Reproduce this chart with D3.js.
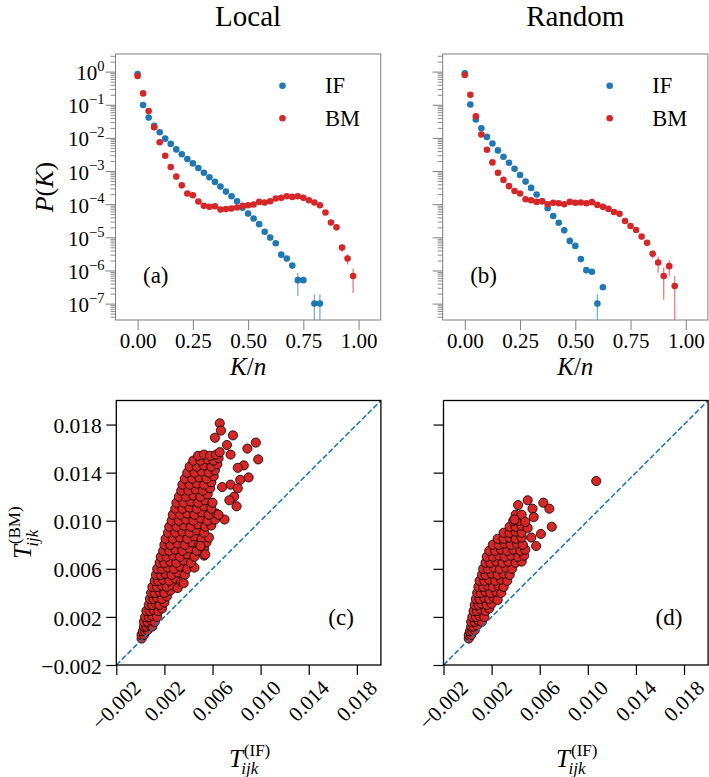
<!DOCTYPE html>
<html>
<head>
<meta charset="utf-8">
<script src="https://cdn.jsdelivr.net/npm/d3@7"></script>
<style>
  body { margin: 0; background: #fff; }
  svg text { font-family: "Liberation Serif", "DejaVu Serif", "Noto Serif", serif; fill: #000; }
</style>
</head>
<body>
<svg id="fig" width="709" height="777" font-family="Liberation Serif, DejaVu Serif, serif"></svg>
<script>
// K/n grid shared by the four P(K) series
var kn = [0, 0.025, 0.05, 0.075, 0.1, 0.125, 0.15, 0.175, 0.2, 0.225,
          0.25, 0.275, 0.3, 0.325, 0.35, 0.375, 0.4, 0.425, 0.45, 0.475,
          0.5, 0.525, 0.55, 0.575, 0.6, 0.625, 0.65, 0.675, 0.7, 0.725,
          0.75, 0.775, 0.8, 0.825, 0.85, 0.875, 0.9, 0.925, 0.95, 0.975];

// (a) Local
var localIF = [8.5e-1, 9.8e-2, 4.1e-2, 2.3e-2, 1.48e-2, 9.5e-3, 6.6e-3, 4.5e-3, 3.2e-3, 2.3e-3,
               1.7e-3, 1.23e-3, 8.9e-4, 6.5e-4, 4.7e-4, 3.4e-4, 2.4e-4, 1.74e-4, 1.23e-4, 7.8e-5,
               5.2e-5, 3.7e-5, 2.5e-5, 1.48e-5, 9.8e-6, 6.6e-6, 3.0e-6, 2.3e-6, 1.4e-6, 5.1e-7,
               5.1e-7, null, 1.0e-7, 1.0e-7, null, null, null, null, null, null];
var localIFErr = [0, 0, 0, 0, 0, 0, 0, 0, 0, 0,
                  0, 0, 0, 0, 0, 0, 0, 0, 0, 0,
                  0, 0, 0, 0, 0, 0, 0, 0, 0, 3.4e-7,
                  0.6e-7, 0, 0.9e-7, 0.9e-7, 0, 0, 0, 0, 0, 0];
var localBM = [7.4e-1, 2.2e-1, 6.5e-2, 2.1e-2, 7.4e-3, 2.9e-3, 1.32e-3, 6.8e-4, 3.7e-4, 2.1e-4,
               1.86e-4, 1.2e-4, 8.9e-5, 8.3e-5, 8.7e-5, 6.9e-5, 7.1e-5, 7.4e-5, 7.9e-5, 8.9e-5,
               9.3e-5, 9.8e-5, 1.17e-4, 1.12e-4, 1.23e-4, 1.48e-4, 1.55e-4, 1.74e-4, 1.66e-4, 1.74e-4,
               1.55e-4, 1.32e-4, 1.12e-4, 9.3e-5, 5.6e-5, 2.8e-5, 2.0e-5, 4.9e-6, 2.3e-6, 6.8e-7];
var localBMErr = [0, 0, 0, 0, 0, 0, 0, 0, 0, 0,
                  0, 0, 0, 0, 0, 0, 0, 0, 0, 0,
                  0, 0, 0, 0, 0, 0, 0, 0, 0, 0,
                  0, 0, 0, 0, 0, 0, 0, 1.2e-6, 0.8e-6, 4.7e-7];

// (b) Random
var randomIF = [8.9e-1, 1.02e-1, 3.6e-2, 1.95e-2, 1.07e-2, 6.8e-3, 4.2e-3, 2.7e-3, 1.78e-3, 1.17e-3,
                7.6e-4, 4.8e-4, 3.1e-4, 1.95e-4, 1.23e-4, 7.6e-5, 4.4e-5, 2.75e-5, 1.62e-5, 7.8e-6,
                5.5e-6, 2.2e-6, 1.02e-6, 9.1e-7, 1.0e-7, 3.1e-7, null, null, null, null,
                null, null, null, null, null, null, null, null, null, null];
var randomIFErr = [0, 0, 0, 0, 0, 0, 0, 0, 0, 0,
                   0, 0, 0, 0, 0, 0, 0, 0, 0, 0,
                   0, 0, 0, 0, 0.9e-7, 0.5e-7, 0, 0, 0, 0,
                   0, 0, 0, 0, 0, 0, 0, 0, 0, 0];
var randomBM = [7.9e-1, 2.0e-1, 4.5e-2, 1.26e-2, 4.4e-3, 1.82e-3, 8.9e-4, 5.4e-4, 3.5e-4, 2.5e-4,
                2.1e-4, 1.41e-4, 1.32e-4, 1.17e-4, 1.23e-4, 1.0e-4, 1.1e-4, 1.07e-4, 1.0e-4, 1.17e-4,
                1.1e-4, 1.12e-4, 1.07e-4, 1.15e-4, 9.5e-5, 8.3e-5, 7.2e-5, 5.8e-5, 5.1e-5, 3.1e-5,
                2.2e-5, 1.66e-5, 1.05e-5, 6.8e-6, 3.2e-6, 1.74e-6, 6.8e-7, 1.35e-6, 3.4e-7, null];
var randomBMErr = [0, 0, 0, 0, 0, 0, 0, 0, 0, 0,
                   0, 0, 0, 0, 0, 0, 0, 0, 0, 0,
                   0, 0, 0, 0, 0, 0, 0, 0, 0, 0,
                   0, 0, 0, 0, 0.9e-6, 0.88e-6, 5.5e-7, 0.67e-6, 3.4e-7, 0];

var kTicks = [0, 0.25, 0.5, 0.75, 1.0];

// scatter clouds, [T_IF, T_BM] in units of 1e-4
var UNIT = 1e-4;
var localT = [[1,2],[1,5],[3,5],[2,8],[4,8],[6,9],[3,12],[5,12],[8,13],[10,12],[3,16],[6,16],[9,17],[12,16],
  [4,20],[7,20],[10,21],[14,20],[5,25],[8,25],[11,26],[15,25],[18,27],[7,30],[10,30],[13,31],[16,30],[20,32],
  [8,35],[11,35],[14,36],[18,35],[22,37],[9,40],[12,40],[16,41],[20,40],[25,42],[10,45],[14,45],[18,46],[22,45],
  [27,46],[31,44],[12,50],[15,50],[19,51],[24,50],[29,52],[34,49],[13,55],[17,55],[21,56],[26,55],[31,57],[37,55],
  [14,60],[18,60],[23,61],[28,60],[33,62],[39,60],[45,61],[16,65],[20,65],[25,66],[30,65],[36,67],[42,65],
  [17,70],[22,70],[27,71],[33,70],[39,72],[45,70],[53,71],[19,75],[24,75],[29,76],[35,75],[41,77],[47,75],[53,77],
  [20,80],[25,80],[31,81],[37,80],[43,82],[49,80],[55,82],[21,85],[27,85],[33,86],[39,85],[45,87],[51,85],[57,86],
  [23,90],[29,90],[35,91],[41,90],[47,92],[53,90],[24,95],[30,95],[36,96],[42,95],[48,97],[54,95],[59,96],
  [26,100],[32,100],[38,101],[44,100],[50,102],[56,100],[62,101],[27,105],[33,105],[39,106],[45,105],[51,107],
  [57,105],[63,106],[29,110],[35,110],[41,111],[47,110],[53,112],[59,110],[30,115],[36,115],[42,116],[48,115],
  [54,117],[60,115],[32,120],[38,120],[44,121],[50,120],[56,122],[34,125],[40,125],[46,126],[52,125],[58,127],
  [35,130],[41,130],[47,131],[53,130],[59,132],[37,135],[43,135],[49,136],[55,135],[61,137],[39,140],[45,140],
  [51,141],[57,140],[62,142],[41,145],[47,145],[53,146],[59,145],[64,147],[44,150],[50,150],[56,151],[61,150],
  [65,152],[48,154],[53,155],[58,154],[63,155],
  [66,181],[67,175],[62,169],[77,171],[72,163],[66,157],[75,155],[89,160],[96,165],[98,151],[86,146],[81,144],
  [90,136],[83,134],[75,130],[68,128],[81,127],[78,120],[74,117],[80,112],[70,101],[65,105],[54,72],[50,79],[36,48]];

var randomT = [[1,2],[1,5],[3,5],[2,8],[4,8],[6,9],[3,12],[5,12],[8,13],[3,16],[6,16],[9,17],[12,16],
  [4,20],[7,20],[10,21],[14,20],[5,25],[8,25],[11,26],[15,25],[18,27],[6,30],[9,30],[12,31],[16,30],[20,31],
  [7,35],[10,35],[14,36],[18,35],[22,36],[25,34],[8,40],[11,40],[15,41],[19,40],[24,41],[28,40],
  [9,45],[13,45],[17,46],[21,45],[26,46],[30,45],[10,50],[14,50],[18,51],[23,50],[28,51],[33,50],
  [12,55],[15,55],[20,56],[25,55],[30,56],[35,55],[13,60],[17,60],[22,61],[27,60],[32,61],[37,60],
  [15,65],[19,65],[24,66],[29,65],[34,66],[40,65],[45,66],[16,70],[21,70],[26,71],[31,70],[36,71],[42,70],[47,71],
  [18,75],[23,75],[28,76],[33,75],[38,76],[44,75],[48,76],[21,80],[26,80],[31,81],[36,80],[41,81],[46,80],
  [25,85],[30,85],[35,86],[40,85],[45,86],[30,90],[35,90],[40,91],[45,90],[35,95],[40,95],[45,96],
  [38,100],[43,100],[40,105],
  [107,133],[50,117],[42,113],[63,115],[54,110],[68,110],[55,103],[45,105],[70,95],[50,94],[61,89],[53,86],
  [57,79],[39,101],[48,99]];

var tTicks = [-0.002, 0.002, 0.006, 0.010, 0.014, 0.018];

var BLUE = "#1f77b4", RED = "#d62728";
var FONT = "Liberation Serif, DejaVu Serif, serif";
var svg = d3.select("#fig");
svg.append("rect").attr("width", 709).attr("height", 777).attr("fill", "#fff");

function styleAxis(sel, color, width) {
  sel.attr("font-family", FONT);
  sel.select(".domain").remove();
  sel.selectAll("line").attr("stroke", color).attr("stroke-width", width);
}

////////////////////// P(K) panels //////////////////////
function degreePanel(p) {
  var W = 265.2, top = 54, bottom = 320;
  var x = d3.scaleLinear().domain([-0.1, 1.1]).range([p.left, p.left + W]);
  var y = d3.scaleLog().domain([3.2e-8, 3.4]).range([bottom, top]);
  var grey = "#7f7f7f";

  svg.append("clipPath").attr("id", "clip" + p.tag)
    .append("rect").attr("x", p.left).attr("y", top).attr("width", W).attr("height", bottom - top);
  var plot = svg.append("g").attr("clip-path", "url(#clip" + p.tag + ")");

  p.series.forEach(function (s) {
    var pts = [];
    kn.forEach(function (k, i) {
      if (s.values[i] != null) pts.push({ k: k, v: s.values[i], e: s.err[i] });
    });
    plot.selectAll(null).data(pts.filter(function (d) { return d.e > 0; }))
      .enter().append("line")
      .attr("x1", function (d) { return x(d.k); })
      .attr("x2", function (d) { return x(d.k); })
      .attr("y1", function (d) { return y(d.v + d.e); })
      .attr("y2", function (d) { return d.v - d.e > 0 ? y(d.v - d.e) : bottom + 10; })
      .attr("stroke", s.color).attr("stroke-width", 1.3).attr("stroke-opacity", 0.6);
    plot.selectAll(null).data(pts).enter().append("circle")
      .attr("cx", function (d) { return x(d.k); })
      .attr("cy", function (d) { return y(d.v); })
      .attr("r", 3.3)
      .attr("fill", s.color);
  });

  // frame
  svg.append("rect").attr("x", p.left).attr("y", top).attr("width", W).attr("height", bottom - top)
    .attr("fill", "none").attr("stroke", grey).attr("stroke-width", 1);

  // x axis
  var xa = svg.append("g").attr("transform", "translate(0," + bottom + ")")
    .call(d3.axisBottom(x).tickValues(kTicks).tickSize(10).tickPadding(3).tickFormat(d3.format(".2f")));
  styleAxis(xa, grey, 1);
  xa.selectAll("text").attr("font-size", 21).attr("fill", "#000");

  // y axis, log with minor ticks
  var isMajor = function (v) { var l = Math.log10(v); return Math.abs(l - Math.round(l)) < 1e-6; };
  var all = y.ticks();
  var majors = all.filter(isMajor), minors = all.filter(function (v) { return !isMajor(v); });
  var ym = svg.append("g").attr("transform", "translate(" + p.left + ",0)")
    .call(d3.axisLeft(y).tickValues(minors).tickSize(5).tickFormat(""));
  styleAxis(ym, grey, 0.9);
  var yM = svg.append("g").attr("transform", "translate(" + p.left + ",0)")
    .call(d3.axisLeft(y).tickValues(majors).tickSize(10).tickFormat(""));
  styleAxis(yM, grey, 1);

  if (p.yLabels) {
    majors.forEach(function (v) {
      var e = Math.round(Math.log10(v));
      var t = svg.append("text").attr("x", p.left - 11).attr("y", y(v) + 8.5)
        .attr("text-anchor", "end").attr("font-size", 21);
      t.append("tspan").text("10");
      t.append("tspan").attr("dy", -9.3).attr("font-size", 14.5).text(e < 0 ? "\u2212" + (-e) : String(e));
    });
    var yl = svg.append("text").attr("transform", "translate(" + (p.left - 63) + "," + ((top + bottom) / 2) + ") rotate(-90)")
      .attr("text-anchor", "middle").attr("font-size", 26);
    yl.append("tspan").attr("font-style", "italic").text("P");
    yl.append("tspan").text("(");
    yl.append("tspan").attr("font-style", "italic").text("K");
    yl.append("tspan").text(")");
  }

  var xl = svg.append("text").attr("x", p.left + W / 2).attr("y", 375)
    .attr("text-anchor", "middle").attr("font-size", 25);
  xl.append("tspan").attr("font-style", "italic").text("K");
  xl.append("tspan").text("/");
  xl.append("tspan").attr("font-style", "italic").text("n");

  // legend
  p.series.forEach(function (s, i) {
    svg.append("circle").attr("cx", p.left + 167).attr("cy", 85.7 + i * 32.6).attr("r", 3.3).attr("fill", s.color);
    svg.append("text").attr("x", p.left + 209.5).attr("y", 93.3 + i * 32.6).attr("font-size", 22.5).text(s.name);
  });

  svg.append("text").attr("x", p.left + 27.5).attr("y", 283).attr("font-size", 23).text(p.panel);
  svg.append("text").attr("x", p.left + W / 2).attr("y", 26).attr("text-anchor", "middle")
    .attr("font-size", 29).text(p.title);
}

////////////////////// T scatter panels //////////////////////
function tLabel(g, sup) {
  var t = g.append("text").attr("font-style", "italic").attr("font-size", 25).text("T");
  var wt = t.node().getComputedTextLength();
  var s = g.append("text").attr("x", wt + 1).attr("y", -11).attr("font-size", 17).text(sup);
  var b = g.append("text").attr("x", wt - 1.5).attr("y", 7).attr("font-size", 17)
    .attr("font-style", "italic").text("ijk");
  return wt + Math.max(s.node().getComputedTextLength() + 1, b.node().getComputedTextLength() - 1.5);
}

function scatterPanel(p) {
  var W = 264.6, top = 400.5, bottom = 665;
  var x = d3.scaleLinear().domain([-0.002, 0.02]).range([p.left, p.left + W]);
  var y = d3.scaleLinear().domain([-0.002, 0.02]).range([bottom, top]);

  svg.append("clipPath").attr("id", "clip" + p.tag)
    .append("rect").attr("x", p.left).attr("y", top).attr("width", W).attr("height", bottom - top);
  var plot = svg.append("g").attr("clip-path", "url(#clip" + p.tag + ")");

  plot.selectAll(null).data(p.points).enter().append("circle")
    .attr("cx", function (d) { return x(d[0] * UNIT); })
    .attr("cy", function (d) { return y(d[1] * UNIT); })
    .attr("r", 4.6)
    .attr("fill", RED).attr("stroke", "#000").attr("stroke-width", 0.8);

  var dom = x.domain();
  plot.append("line")
    .attr("x1", x(dom[0])).attr("y1", y(dom[0])).attr("x2", x(dom[1])).attr("y2", y(dom[1]))
    .attr("stroke", BLUE).attr("stroke-width", 1.6).attr("stroke-dasharray", "5.5,2.4");

  svg.append("rect").attr("x", p.left).attr("y", top).attr("width", W).attr("height", bottom - top)
    .attr("fill", "none").attr("stroke", "#000").attr("stroke-width", 1.3);

  var fmt = d3.format(".3f");
  var xa = svg.append("g").attr("transform", "translate(0," + bottom + ")")
    .call(d3.axisBottom(x).tickValues(tTicks).tickSize(10).tickFormat(""));
  styleAxis(xa, "#000", 1.2);
  tTicks.forEach(function (v) {
    var t = svg.append("text").attr("font-size", 21).attr("text-anchor", "middle")
      .attr("dominant-baseline", "central").text(fmt(v));
    var w = t.node().getComputedTextLength();
    t.attr("transform", "translate(" + x(v) + "," + (679 + (w + 15) * 0.3536) + ") rotate(-45)");
  });

  var ya = svg.append("g").attr("transform", "translate(" + p.left + ",0)")
    .call(d3.axisLeft(y).tickValues(tTicks).tickSize(10).tickPadding(4.5)
      .tickFormat(p.yLabels ? fmt : ""));
  styleAxis(ya, "#000", 1.2);
  ya.selectAll("text").attr("font-size", 21.5).attr("fill", "#000").attr("dy", "0.38em");

  var gx = svg.append("g");
  var wx = tLabel(gx, "(IF)");
  gx.attr("transform", "translate(" + (p.left + W / 2 - wx / 2 + 1) + ",767)");

  if (p.yLabels) {
    var gy = svg.append("g");
    var wy = tLabel(gy, "(BM)");
    gy.attr("transform", "translate(31," + ((top + bottom) / 2 + wy / 2) + ") rotate(-90)");
  }

  svg.append("text").attr("x", p.left + 212).attr("y", 625).attr("font-size", 23).text(p.panel);
}

degreePanel({
  tag: "a", left: 115.5, yLabels: true, panel: "(a)", title: "Local",
  series: [
    { name: "IF", color: BLUE, values: localIF, err: localIFErr },
    { name: "BM", color: RED, values: localBM, err: localBMErr }
  ]
});
degreePanel({
  tag: "b", left: 442.7, yLabels: false, panel: "(b)", title: "Random",
  series: [
    { name: "IF", color: BLUE, values: randomIF, err: randomIFErr },
    { name: "BM", color: RED, values: randomBM, err: randomBMErr }
  ]
});
scatterPanel({ tag: "c", left: 116.3, yLabels: true, panel: "(c)", points: localT });
scatterPanel({ tag: "d", left: 443.5, yLabels: false, panel: "(d)", points: randomT });
</script>
</body>
</html>
